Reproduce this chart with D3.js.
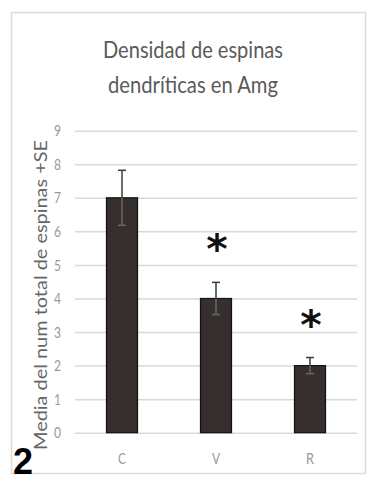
<!DOCTYPE html>
<html>
<head>
<meta charset="utf-8">
<script src="https://cdn.jsdelivr.net/npm/d3@7"></script>
<style>
  html, body { margin: 0; padding: 0; background: #fff; }
  svg { display: block; }
</style>
</head>
<body>
<svg id="chart" width="368" height="478"></svg>
<script>
// Spine density per group (mean and standard error)
const categories = ["C", "V", "R"];
const means = [7, 4, 2];
const errors = [0.82, 0.48, 0.24];
const significant = [false, true, true];
const yTicks = [0, 1, 2, 3, 4, 5, 6, 7, 8, 9];
const titleLines = ["Densidad de espinas", "dendríticas en Amg"];
const yTitle = "Media del num total de espinas +SE";
const panelLabel = "2";

const svg = d3.select("#chart");
const font = "Lato, 'Open Sans', sans-serif";

// Plot area
const plot = { left: 75, right: 357, top: 130.7, bottom: 432.7 };

const x = d3.scaleBand()
  .domain(categories)
  .range([plot.left, plot.right])
  .paddingInner(0.67)
  .paddingOuter(0.335);

const y = d3.scaleLinear()
  .domain([0, 9])
  .range([plot.bottom, plot.top]);

// Outer frame of the chart
svg.append("rect")
  .attr("x", 11.5).attr("y", 12.5)
  .attr("width", 354).attr("height", 461)
  .attr("fill", "none")
  .attr("stroke", "#dcdcdc")
  .attr("stroke-width", 1.5);

// Title (narrow, tall lettering)
const titleWidths = [180, 170];
svg.append("g")
  .selectAll("text")
  .data(titleLines)
  .join("text")
  .attr("x", 193)
  .attr("y", (d, i) => 58 + i * 35)
  .attr("text-anchor", "middle")
  .attr("font-family", font)
  .attr("font-size", 23)
  .attr("fill", "#5a5a5a")
  .attr("textLength", (d, i) => titleWidths[i])
  .attr("lengthAdjust", "spacingAndGlyphs")
  .text(d => d);

// Horizontal gridlines and tick labels
const yAxis = d3.axisLeft(y)
  .tickValues(yTicks)
  .tickSize(-(plot.right - plot.left))
  .tickPadding(14)
  .tickFormat(d3.format("d"));

const gy = svg.append("g")
  .attr("transform", `translate(${plot.left},0)`)
  .call(yAxis);
gy.select(".domain").remove();
gy.selectAll(".tick line")
  .attr("stroke", "#d9d9d9")
  .attr("stroke-width", 1.5);
gy.selectAll(".tick text")
  .attr("font-family", font)
  .attr("font-size", 16)
  .attr("fill", "#999")
  .attr("textLength", 7)
  .attr("lengthAdjust", "spacingAndGlyphs");

// Category axis labels
const xAxis = d3.axisBottom(x).tickSize(0).tickPadding(21);
const gx = svg.append("g")
  .attr("transform", `translate(0,${plot.bottom})`)
  .call(xAxis);
gx.select(".domain").remove();
gx.selectAll(".tick text")
  .attr("font-family", font)
  .attr("font-size", 15)
  .attr("fill", "#999")
  .attr("textLength", 8)
  .attr("lengthAdjust", "spacingAndGlyphs");

// Y axis title
svg.append("text")
  .attr("transform", `translate(47,${(140 + 450) / 2}) rotate(-90)`)
  .attr("text-anchor", "middle")
  .attr("font-family", font)
  .attr("font-size", 17)
  .attr("fill", "#666")
  .attr("textLength", 310)
  .attr("lengthAdjust", "spacingAndGlyphs")
  .text(yTitle);

const data = categories.map((c, i) => ({ c, m: means[i], e: errors[i], s: significant[i] }));

// Bars
svg.append("g")
  .selectAll("rect")
  .data(data)
  .join("rect")
  .attr("x", d => x(d.c))
  .attr("y", d => y(d.m))
  .attr("width", x.bandwidth())
  .attr("height", d => y(0) - y(d.m))
  .attr("fill", "#35302d")
  .attr("stroke", "#111")
  .attr("stroke-width", 1.2);

// Error bars: upper part dark, lower part seen against the bar
const eb = svg.append("g");
data.forEach(d => {
  const cx = x(d.c) + x.bandwidth() / 2;
  eb.append("line")
    .attr("x1", cx).attr("x2", cx)
    .attr("y1", y(d.m)).attr("y2", y(d.m + d.e))
    .attr("stroke", "#3a3a3a").attr("stroke-width", 1.5);
  eb.append("line")
    .attr("x1", cx).attr("x2", cx)
    .attr("y1", y(d.m)).attr("y2", y(d.m - d.e))
    .attr("stroke", "#6b6662").attr("stroke-width", 1.5);
  eb.append("line")
    .attr("x1", cx - 4).attr("x2", cx + 4)
    .attr("y1", y(d.m + d.e)).attr("y2", y(d.m + d.e))
    .attr("stroke", "#3a3a3a").attr("stroke-width", 1.5);
  eb.append("line")
    .attr("x1", cx - 4).attr("x2", cx + 4)
    .attr("y1", y(d.m - d.e)).attr("y2", y(d.m - d.e))
    .attr("stroke", "#6b6662").attr("stroke-width", 1.5);
});

// Significance markers
svg.append("g")
  .selectAll("text")
  .data(data.filter(d => d.s))
  .join("text")
  .attr("x", d => x(d.c) + x.bandwidth() / 2 + 1)
  .attr("y", d => y(d.m + d.e) - 19)
  .attr("text-anchor", "middle")
  .attr("font-family", "'DejaVu Sans', sans-serif")
  .attr("font-weight", "bold")
  .attr("font-size", 41)
  .attr("fill", "#111")
  .text("*");

// Panel label
svg.append("text")
  .attr("x", 13)
  .attr("y", 474)
  .attr("font-family", "'Liberation Sans', Arial, sans-serif")
  .attr("font-weight", "bold")
  .attr("font-size", 36)
  .attr("fill", "#000")
  .text(panelLabel);
</script>
</body>
</html>
